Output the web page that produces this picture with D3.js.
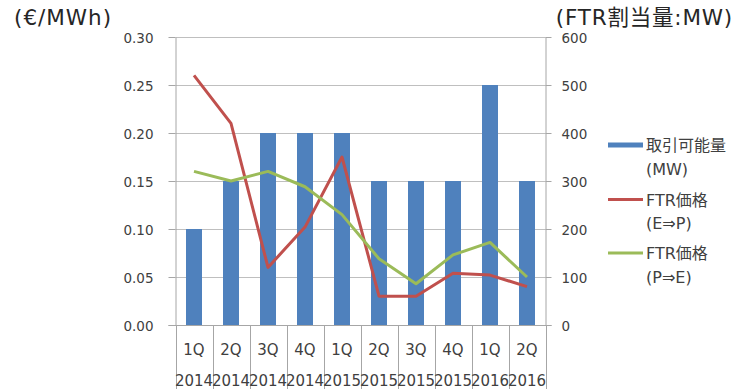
<!DOCTYPE html>
<html>
<head>
<meta charset="utf-8">
<script src="https://cdn.jsdelivr.net/npm/d3@7"></script>
<style>
  html, body { margin: 0; padding: 0; background: #fff; }
  svg { display: block; font-family: "DejaVu Sans", "Noto Sans CJK JP", sans-serif; }
</style>
</head>
<body>
<svg id="chart" width="735" height="389"></svg>
<script>
// Quarterly FTR data
const quarters = ["1Q", "2Q", "3Q", "4Q", "1Q", "2Q", "3Q", "4Q", "1Q", "2Q"];
const years    = ["2014", "2014", "2014", "2014", "2015", "2015", "2015", "2015", "2016", "2016"];
const capacityMW = [200, 300, 400, 400, 400, 300, 300, 300, 500, 300];       // 取引可能量 (MW)
const priceEP    = [0.26, 0.21, 0.06, 0.102, 0.175, 0.03, 0.03, 0.054, 0.052, 0.04];   // FTR価格 (E⇒P)
const pricePE    = [0.16, 0.15, 0.16, 0.144, 0.115, 0.069, 0.043, 0.073, 0.086, 0.05]; // FTR価格 (P⇒E)
const leftTicks  = [0, 0.05, 0.10, 0.15, 0.20, 0.25, 0.30];
const rightTicks = [0, 100, 200, 300, 400, 500, 600];

const svg = d3.select("#chart");
const plot = { left: 175.5, right: 545.5, top: 37, bottom: 325 };
const gridColor = "#BFBFBF";
const axisColor = "#A6A6A6";

const idx = d3.range(quarters.length);
const x = d3.scaleBand().domain(idx).range([plot.left, plot.right]).padding(0);
const yL = d3.scaleLinear().domain([0, 0.30]).range([plot.bottom, plot.top]);
const yR = d3.scaleLinear().domain([0, 600]).range([plot.bottom, plot.top]);

// horizontal gridlines
svg.append("g").selectAll("line").data(leftTicks.slice(1)).join("line")
  .attr("x1", plot.left).attr("x2", plot.right)
  .attr("y1", d => Math.round(yL(d)) + 0.5).attr("y2", d => Math.round(yL(d)) + 0.5)
  .attr("stroke", gridColor).attr("stroke-width", 1);

// left axis
const gL = svg.append("g").attr("transform", `translate(${plot.left},0)`)
  .call(d3.axisLeft(yL).tickValues(leftTicks).tickFormat(d3.format(".2f")).tickSizeInner(7).tickSizeOuter(0).tickPadding(15));
// right axis
const gR = svg.append("g").attr("transform", `translate(${plot.right},0)`)
  .call(d3.axisRight(yR).tickValues(rightTicks).tickSizeInner(6).tickSizeOuter(0).tickPadding(10));
[gL, gR].forEach(g => {
  g.select(".domain").attr("stroke", axisColor);
  g.selectAll(".tick line").attr("stroke", axisColor);
  g.selectAll(".tick text").attr("fill", "#404040").style("font-size", "13.5px")
    .style("font-family", "DejaVu Sans, sans-serif").attr("dy", "0.4em");
});

// bottom axis line and category dividers
svg.append("line").attr("x1", plot.left - 7).attr("x2", plot.right + 6)
  .attr("y1", plot.bottom + 0.5).attr("y2", plot.bottom + 0.5).attr("stroke", axisColor);
const bounds = idx.map(i => x(i)).concat([plot.right]);
svg.append("g").selectAll("line").data(bounds).join("line")
  .attr("x1", d => Math.round(d) + 0.5).attr("x2", d => Math.round(d) + 0.5)
  .attr("y1", plot.bottom).attr("y2", 389)
  .attr("stroke", axisColor);

// bars: 取引可能量 on right scale
const barW = 16;
svg.append("g").selectAll("rect").data(capacityMW).join("rect")
  .attr("x", (d, i) => x(i) + x.bandwidth() / 2 - barW / 2)
  .attr("width", barW)
  .attr("y", d => yR(d))
  .attr("height", d => plot.bottom - yR(d))
  .attr("fill", "#4F81BD");

// price lines on left scale
const line = d3.line().x((d, i) => x(i) + x.bandwidth() / 2).y(d => yL(d));
svg.append("path").datum(priceEP).attr("d", line)
  .attr("fill", "none").attr("stroke", "#C0504D").attr("stroke-width", 3).attr("stroke-linejoin", "round");
svg.append("path").datum(pricePE).attr("d", line)
  .attr("fill", "none").attr("stroke", "#9BBB59").attr("stroke-width", 3).attr("stroke-linejoin", "round");

// category labels
const cx = i => x(i) + x.bandwidth() / 2;
svg.append("g").selectAll("text").data(quarters).join("text")
  .attr("x", (d, i) => cx(i)).attr("y", 354.5).attr("text-anchor", "middle")
  .style("font-size", "15px").attr("fill", "#404040").text(d => d);
svg.append("g").selectAll("text").data(years).join("text")
  .attr("x", (d, i) => cx(i)).attr("y", 386).attr("text-anchor", "middle")
  .style("font-size", "15px").attr("fill", "#404040").text(d => d);

// axis titles
svg.append("text").attr("x", 14).attr("y", 25).style("font-size", "21.5px")
  .style("letter-spacing", "1px").attr("fill", "#262626").text("(€/MWh)");
svg.append("text").attr("x", 733).attr("y", 25).attr("text-anchor", "end").style("font-size", "21.5px")
  .style("letter-spacing", "0.8px").attr("fill", "#262626").text("(FTR割当量:MW)");

// legend
const legend = svg.append("g").style("font-size", "16px").attr("fill", "#404040");
const items = [
  { kind: "bar", color: "#4F81BD", lines: ["取引可能量", "(MW)"], y: 145 },
  { kind: "line", color: "#C0504D", lines: ["FTR価格", "(E⇒P)"], y: 199.5 },
  { kind: "line", color: "#9BBB59", lines: ["FTR価格", "(P⇒E)"], y: 253 }
];
items.forEach(it => {
  if (it.kind === "bar") {
    legend.append("rect").attr("x", 608).attr("y", it.y - 2.5).attr("width", 35).attr("height", 5).attr("fill", it.color);
  } else {
    legend.append("line").attr("x1", 608).attr("x2", 643).attr("y1", it.y).attr("y2", it.y)
      .attr("stroke", it.color).attr("stroke-width", 3);
  }
  it.lines.forEach((t, k) => {
    legend.append("text").attr("x", 646).attr("y", it.y + 6 + k * 23.5).text(t);
  });
});
</script>
</body>
</html>
